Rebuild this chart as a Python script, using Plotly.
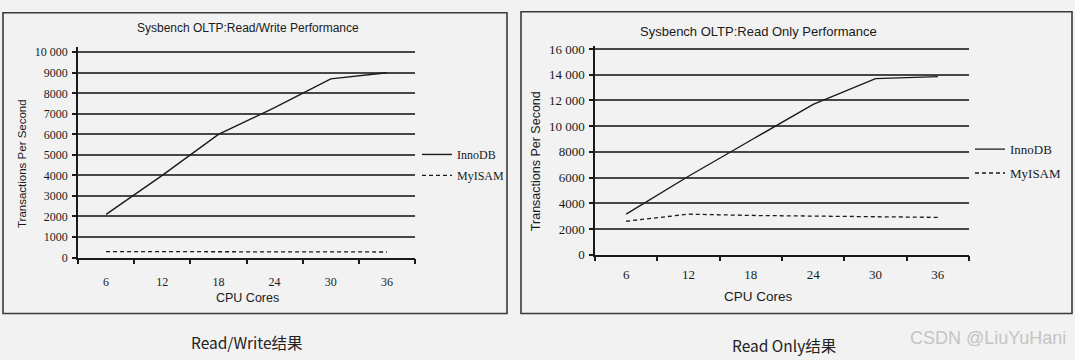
import plotly.graph_objects as go

W, H = 1075, 360

# ---- data ----
cores = [6, 12, 18, 24, 30, 36]
rw_innodb = [2100, 4000, 6000, 7300, 8700, 9000]
rw_myisam = [290, 285, 280, 280, 275, 270]
ro_innodb = [3150, 6100, 8900, 11700, 13700, 13850]
ro_myisam = [2600, 3150, 3050, 3000, 2950, 2900]

rw_yticks = [0, 1000, 2000, 3000, 4000, 5000, 6000, 7000, 8000, 9000, 10000]
rw_yticktext = ["0", "1000", "2000", "3000", "4000", "5000", "6000", "7000", "8000", "9000", "10 000"]
ro_yticks = [0, 2000, 4000, 6000, 8000, 10000, 12000, 14000, 16000]
ro_yticktext = ["0", "2000", "4000", "6000", "8000", "10 000", "12 000", "14 000", "16 000"]
x_ticktext = ["6", "12", "18", "24", "30", "36"]
x_boundaries = [3, 9, 15, 21, 27, 33, 39]

titles = ["Sysbench OLTP:Read/Write Performance", "Sysbench OLTP:Read Only Performance"]
captions = ["Read/Write结果", "Read Only结果"]
series_names = ["InnoDB", "MyISAM"]

BG = "#f2f2f2"
INK = "#1a1a1a"
GRID = "#474747"
SERIF = "Liberation Serif, Times New Roman, serif"
SANS = "Liberation Sans, Arial, sans-serif"

def px_x(p):
    return p / W

def px_y(p):
    return 1 - p / H

fig = go.Figure()

# Both x axes of a panel share the identical fixed range [3, 39]; one carries the
# boundary tick marks, the other the centred category labels.
fig.add_trace(go.Scatter(x=cores, y=rw_innodb, name=series_names[0], mode="lines", legendgroup="a",
                         line=dict(color=INK, width=1.4), xaxis="x", yaxis="y", legend="legend"))
fig.add_trace(go.Scatter(x=cores, y=rw_myisam, name=series_names[1], mode="lines", legendgroup="b",
                         line=dict(color=INK, width=1.3, dash="4px,3px"), xaxis="x3", yaxis="y", legend="legend"))
fig.add_trace(go.Scatter(x=cores, y=ro_innodb, name=series_names[0], mode="lines", legendgroup="c",
                         line=dict(color=INK, width=1.4), xaxis="x2", yaxis="y2", legend="legend2"))
fig.add_trace(go.Scatter(x=cores, y=ro_myisam, name=series_names[1], mode="lines", legendgroup="d",
                         line=dict(color=INK, width=1.3, dash="4px,3px"), xaxis="x4", yaxis="y2", legend="legend2"))

def xaxis_ticks_cfg(domain, anchor):
    return dict(domain=domain, range=[3, 39], tickmode="array", tickvals=x_boundaries,
                ticktext=[""] * len(x_boundaries),
                ticks="outside", ticklen=5, tickwidth=1.5, tickcolor=INK,
                showgrid=False, zeroline=False, showline=True, linecolor=INK, linewidth=1.5,
                anchor=anchor, fixedrange=True)

def xaxis_labels_cfg(domain, anchor, over, fs, standoff):
    return dict(domain=domain, range=[3, 39], tickmode="array", tickvals=cores, ticktext=x_ticktext,
                ticks="", showgrid=False, zeroline=False, showline=False, overlaying=over, side="bottom",
                tickfont=dict(family=SERIF, size=fs, color=INK), ticklabelstandoff=standoff,
                anchor=anchor, fixedrange=True)

def yaxis_cfg(domain, rng, tv, tt, anchor, fs):
    return dict(domain=domain, range=rng, tickmode="array", tickvals=tv, ticktext=tt,
                ticks="outside", ticklen=4, tickwidth=1.5, tickcolor=INK,
                showgrid=True, gridcolor=GRID, gridwidth=2, zeroline=False,
                showline=True, linecolor=INK, linewidth=1.5, anchor=anchor,
                tickfont=dict(family=SERIF, size=fs, color=INK), ticklabelstandoff=2,
                fixedrange=True)

LD = [px_x(78), px_x(415)]
RD = [px_x(595), px_x(969)]

fig.update_layout(
    width=W, height=H,
    margin=dict(l=0, r=0, t=0, b=0),
    paper_bgcolor=BG, plot_bgcolor=BG,
    xaxis=xaxis_ticks_cfg(LD, "y"),
    yaxis=yaxis_cfg([px_y(262), px_y(44)], [0, 10235], rw_yticks, rw_yticktext, "x", 12),
    xaxis2=xaxis_ticks_cfg(RD, "y2"),
    yaxis2=yaxis_cfg([px_y(259), px_y(43)], [0, 16200], ro_yticks, ro_yticktext, "x2", 13),
    xaxis3=xaxis_labels_cfg(LD, "y", "x", 12, 15),
    xaxis4=xaxis_labels_cfg(RD, "y2", "x2", 13, 10),
    legend=dict(x=px_x(417), y=px_y(140), xanchor="left", yanchor="top", bgcolor="rgba(0,0,0,0)",
                font=dict(family=SERIF, size=12, color=INK), itemwidth=30,
                traceorder="grouped", tracegroupgap=2),
    legend2=dict(x=px_x(970), y=px_y(134), xanchor="left", yanchor="top", bgcolor="rgba(0,0,0,0)",
                 font=dict(family=SERIF, size=13, color=INK), itemwidth=30,
                 traceorder="grouped", tracegroupgap=4),
    showlegend=True,
)

fig.add_shape(type="rect", xref="paper", yref="paper", x0=px_x(3), x1=px_x(507), y0=px_y(320), y1=px_y(8),
              line=dict(color="#3a3a3a", width=1.6), fillcolor="rgba(0,0,0,0)", layer="below")
fig.add_shape(type="rect", xref="paper", yref="paper", x0=px_x(521), x1=px_x(1072), y0=px_y(320), y1=px_y(7),
              line=dict(color="#3a3a3a", width=1.6), fillcolor="rgba(0,0,0,0)", layer="below")

def ann(text, x, y, size, family=SANS, color=INK, angle=0):
    fig.add_annotation(text=text, xref="paper", yref="paper", x=px_x(x), y=px_y(y),
                       xanchor="center", yanchor="middle", showarrow=False, textangle=angle,
                       font=dict(family=family, size=size, color=color))

ann(titles[0], 248, 24, 12)
ann(titles[1], 758, 27, 13)
ann("Transactions Per Second", 22, 165, 11.5, angle=-90)
ann("CPU Cores", 247, 304, 12.5)
ann("Transactions Per Second", 536, 162, 12.5, angle=-90)
ann("CPU Cores", 758, 302, 13.5)
ann(captions[0], 247, 350, 15.5, family="Noto Sans CJK SC", color="#222222")
ann(captions[1], 784, 353, 15.5, family="Noto Sans CJK SC", color="#222222")
ann("CSDN @LiuYuHani", 988, 345, 18, family=SANS, color="#c4c4c4")

fig.write_html("out.html")
